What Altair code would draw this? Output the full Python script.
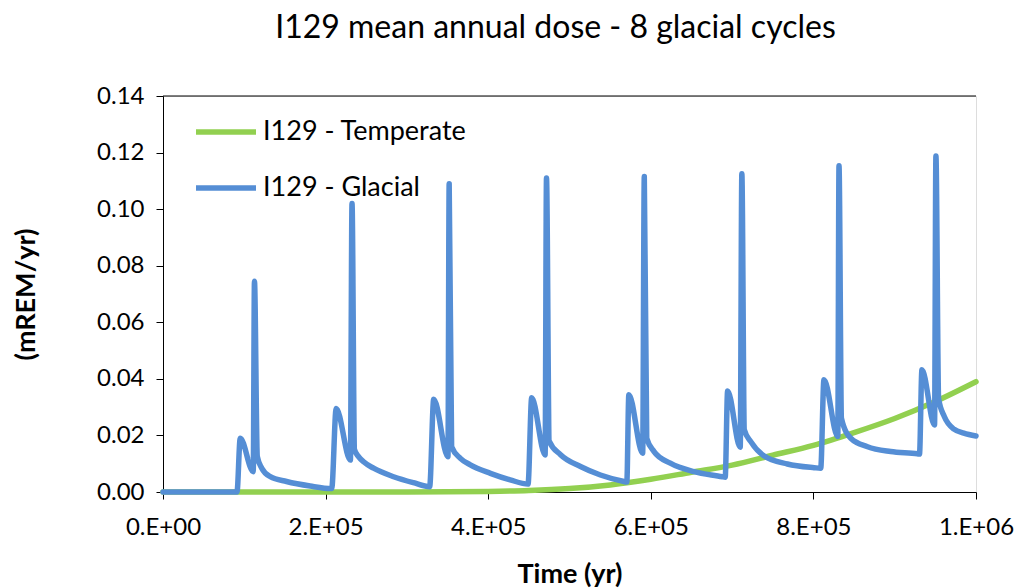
import altair as alt
import pandas as pd

# ---- data ----
temperate_t = [0, 100000, 200000, 300000, 400000, 450000, 500000, 550000, 600000,
               650000, 700000, 750000, 800000, 850000, 900000, 950000, 1000000]
temperate_v = [0, 0, 0, 0, 0.0002, 0.0005, 0.0012, 0.0025, 0.0045,
               0.0070, 0.0095, 0.0130, 0.0165, 0.0210, 0.0260, 0.0320, 0.0390]

glacial_t = [0, 91000, 95000, 111000, 112500, 116000, 121500, 132000, 152000, 181000, 207500,
             213000, 230500, 232500, 235500, 240500, 246700, 259000, 283600, 308000, 328000,
             333000, 350500, 352000, 355000, 365800, 378000, 402700, 427000, 449000,
             453500, 470000, 471700, 475000, 489000, 513500, 538000, 567000, 570500,
             573000, 590000, 592000, 595000, 604000, 624000, 653000, 688000, 691500,
             694500, 710000, 712000, 715000, 723000, 739000, 768000, 801000, 809000,
             813000, 830000, 831500, 834500, 846000, 866600, 895000, 928000, 930500,
             933500, 949000, 950700, 954000, 961000, 973000, 985000, 1000000]
glacial_v = [0, 0, 0.0190, 0.0072, 0.0745, 0.0125, 0.0084, 0.0054, 0.0037, 0.0021, 0.0012,
             0.0295, 0.0113, 0.1020, 0.0150, 0.0125, 0.0107, 0.0084, 0.0054, 0.0033, 0.0019,
             0.0328, 0.0125, 0.1090, 0.0160, 0.0119, 0.0096, 0.0066, 0.0043, 0.0028,
             0.0333, 0.0131, 0.1110, 0.0180, 0.0132, 0.0090, 0.0060, 0.0037, 0.0035,
             0.0344, 0.0137, 0.1115, 0.0190, 0.0143, 0.0102, 0.0072, 0.0054, 0.0052,
             0.0357, 0.0158, 0.1125, 0.0220, 0.0178, 0.0128, 0.0099, 0.0086, 0.0084,
             0.0397, 0.0196, 0.1153, 0.0260, 0.0190, 0.0160, 0.0143, 0.0135, 0.0134,
             0.0432, 0.0237, 0.1188, 0.0330, 0.0267, 0.0222, 0.0208, 0.0198]

series_names = ["I129 - Temperate", "I129 - Glacial"]
series_colors = ["#92D050", "#558ED5"]
x_ticks = [0, 200000, 400000, 600000, 800000, 1000000]
x_tick_labels = ["0.E+00", "2.E+05", "4.E+05", "6.E+05", "8.E+05", "1.E+06"]
y_ticks = [0, 0.02, 0.04, 0.06, 0.08, 0.10, 0.12, 0.14]

FONT = "Lato"

temp_df = pd.DataFrame({"t": temperate_t, "v": temperate_v, "s": series_names[0], "o": range(len(temperate_t))})
glac_df = pd.DataFrame({"t": glacial_t, "v": glacial_v, "s": series_names[1], "o": range(len(glacial_t))})

label_expr = "[" + ",".join("'" + s + "'" for s in x_tick_labels) + "][round(datum.value/200000)]"

color = alt.Color(
    "s:N",
    scale=alt.Scale(domain=series_names, range=series_colors),
    legend=alt.Legend(
        title=None, orient="none", legendX=30, legendY=3,
        symbolType="stroke", symbolSize=3600, symbolStrokeWidth=5.5,
        labelFontSize=27, labelFont=FONT, labelColor="black", labelOffset=4,
        rowPadding=10, padding=0, labelLimit=400,
    ),
)

x_enc = alt.X(
    "t:Q",
    scale=alt.Scale(domain=[0, 1000000], nice=False, zero=False),
    axis=alt.Axis(
        values=x_ticks, labelExpr=label_expr, labelFlush=False,
        title="Time (yr)", grid=False, tickSize=7, domainColor="black", tickColor="black",
        labelFontSize=24, labelFont=FONT, labelColor="black", labelPadding=16,
        titleFontSize=27, titleFont=FONT, titleFontWeight="bold", titleColor="black", titlePadding=22,
    ),
)
y_enc = alt.Y(
    "v:Q",
    scale=alt.Scale(domain=[0, 0.14], nice=False),
    axis=alt.Axis(
        values=y_ticks, format=".2f", title="(mREM/yr)", grid=False, tickSize=7,
        domainColor="black", tickColor="black",
        labelFontSize=24, labelFont=FONT, labelColor="black", labelPadding=12,
        titleFontSize=27, titleFont=FONT, titleFontWeight="bold", titleColor="black", titlePadding=56,
    ),
)

line_style = dict(strokeWidth=5.5, strokeCap="round", strokeJoin="round", interpolate="monotone")
temp = alt.Chart(temp_df).mark_line(**line_style).encode(
    x=x_enc, y=y_enc, color=color, order="o:Q"
)
glac = alt.Chart(glac_df).mark_line(**line_style).encode(
    x=x_enc, y=y_enc, color=color, order="o:Q"
)
top_rule = alt.Chart(pd.DataFrame({"y": [y_ticks[-1]]})).mark_rule(color="black", strokeWidth=1).encode(
    y=alt.Y("y:Q", scale=alt.Scale(domain=[0, 0.14], nice=False))
)

chart = alt.layer(temp, glac, top_rule).properties(
    width=813, height=396,
    autosize=alt.AutoSizeParams(type="none"),
    padding={"left": 163, "top": 96, "right": 41, "bottom": 96},
    title=alt.Title(
        "I129 mean annual dose - 8 glacial cycles", fontSize=32, font=FONT, fontWeight="normal",
        color="black", anchor="middle", frame="group", offset=39, dx=-14,
    ),
).configure_view(stroke="#888888", strokeWidth=1.5).configure(background="white")

chart.save("out.html", embed_options={"renderer": "svg", "actions": False})
